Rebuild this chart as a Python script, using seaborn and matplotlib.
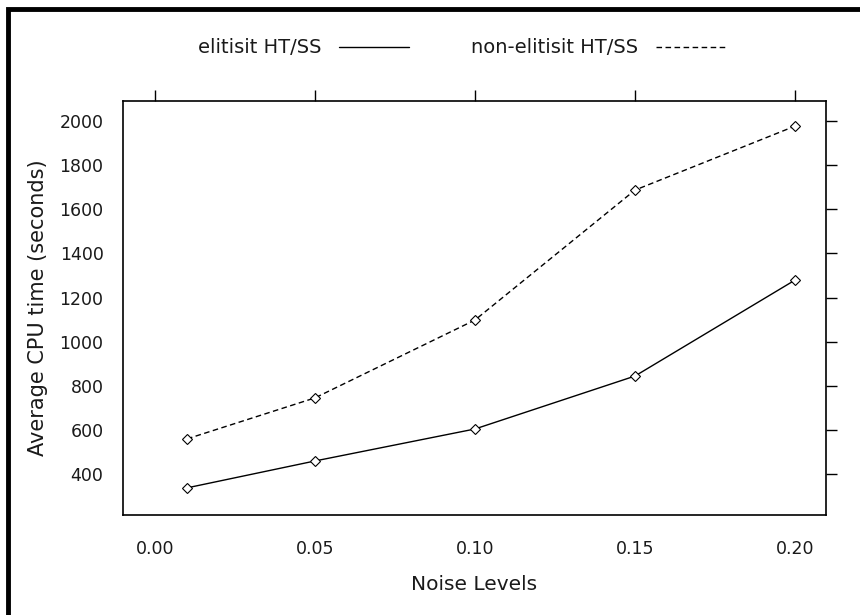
import matplotlib
matplotlib.use("Agg")
import matplotlib.pyplot as plt
import seaborn as sns
import pandas as pd
from matplotlib.patches import Rectangle
from matplotlib.lines import Line2D

noise_levels = [0.01, 0.05, 0.10, 0.15, 0.20]
elitist = [337, 459, 604, 844, 1279]
non_elitist = [559, 745, 1098, 1687, 1977]
series_names = ["elitisit HT/SS", "non-elitisit HT/SS"]
x_ticks = [0.00, 0.05, 0.10, 0.15, 0.20]
x_tick_labels = ["0.00", "0.05", "0.10", "0.15", "0.20"]
y_ticks = [400, 600, 800, 1000, 1200, 1400, 1600, 1800, 2000]

df = pd.DataFrame({
    "noise": noise_levels * 2,
    "cpu": elitist + non_elitist,
    "method": [series_names[0]] * 5 + [series_names[1]] * 5,
})

sns.set_style("white")
plt.rcParams["font.family"] = ["DejaVu Sans"]
plt.rcParams["text.color"] = "#1a1a1a"
plt.rcParams["axes.labelcolor"] = "#1a1a1a"
plt.rcParams["xtick.labelcolor"] = "#1a1a1a"
plt.rcParams["ytick.labelcolor"] = "#1a1a1a"

fig = plt.figure(figsize=(8.6, 6.15), dpi=100)
ax = fig.add_axes([0.143, 0.1626, 0.9605 - 0.143, 0.8358 - 0.1626])

sns.lineplot(data=df, x="noise", y="cpu", style="method",
             dashes={series_names[0]: "", series_names[1]: (4, 2.5)},
             markers={series_names[0]: "D", series_names[1]: "D"},
             color="black", linewidth=1.0, markersize=5.5,
             markerfacecolor="white", markeredgecolor="black", markeredgewidth=0.8,
             ax=ax, legend=False)

ax.set_xlim(-0.01, 0.2097)
ax.set_ylim(214, 2091)
ax.set_xticks(x_ticks)
ax.set_xticklabels(x_tick_labels)
ax.set_yticks(y_ticks)
ax.tick_params(axis="both", which="both", direction="out", length=8, width=1,
               color="black", labelsize=12.5, top=True, right=True,
               labeltop=False, labelright=False, pad=6)
ax.tick_params(axis="x", pad=10)
for s in ax.spines.values():
    s.set_visible(True)
    s.set_color("black")
    s.set_linewidth(1.2)

ax.set_xlabel("Noise Levels", fontsize=14.5, labelpad=12)
ax.set_ylabel("Average CPU time (seconds)", fontsize=15, labelpad=8)

handles = [Line2D([0], [0], color="black", lw=1.0),
           Line2D([0], [0], color="black", lw=1.0, dashes=(4, 2.5))]
fig.legend(handles, series_names, loc="center", bbox_to_anchor=(0.537, 0.922),
           ncol=2, frameon=False, markerfirst=False, handlelength=3.6,
           columnspacing=3.2, handletextpad=0.9, fontsize=14)

fig.patches.append(Rectangle((8 / 860, -0.1), 1.2, 1.1 - 9 / 615, transform=fig.transFigure,
                             fill=False, edgecolor="black", linewidth=3.5))

fig.savefig("out.png", dpi=100)
